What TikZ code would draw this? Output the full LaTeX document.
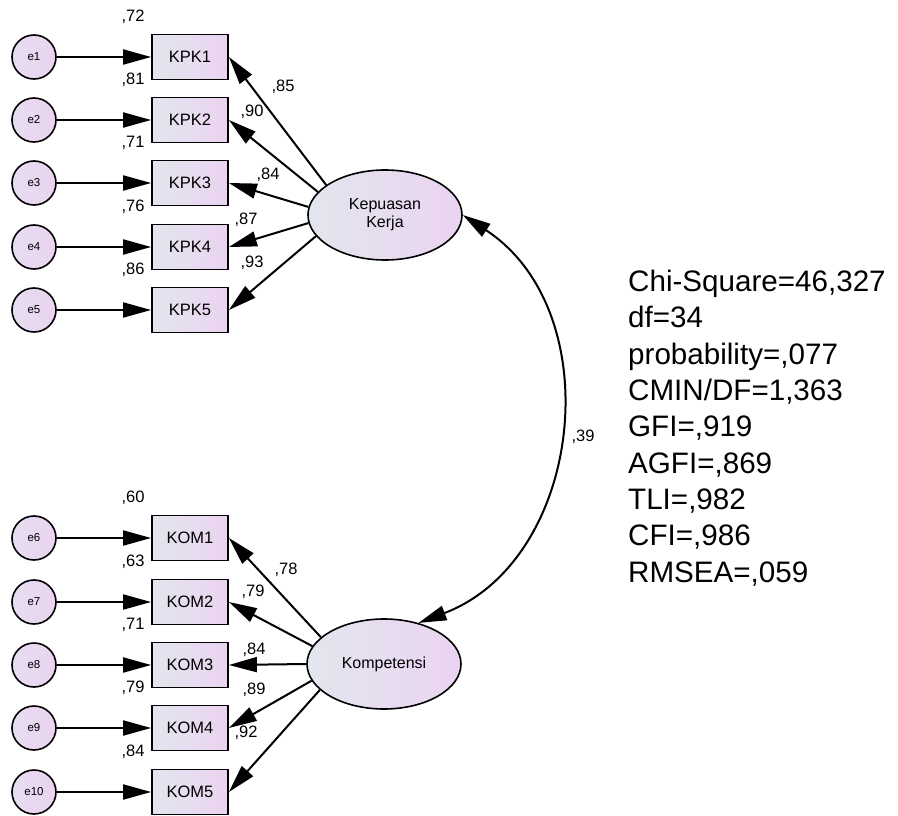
\documentclass[tikz,border=0pt]{standalone}
\usepackage{fontspec}
\setmainfont{Liberation Sans}
\usetikzlibrary{arrows.meta,shapes.geometric}
\definecolor{cAmosL}{HTML}{E2E6EE}
\definecolor{cAmosR}{HTML}{EBD3F1}

\tikzset{
  errnode/.style={circle,draw,line width=1.6pt,minimum size=44pt,inner sep=0pt,
    left color=cAmosL!50!cAmosR,right color=cAmosR,font=\fontsize{11.5}{13}\selectfont},
  obsnode/.style={rectangle,draw,line width=1.8pt,minimum width=76pt,minimum height=45pt,
    inner sep=0pt,left color=cAmosL,right color=cAmosR,font=\fontsize{16.5}{19}\selectfont},
  latnode/.style={ellipse,draw,line width=1.6pt,minimum width=154pt,minimum height=90pt,
    inner sep=0pt,align=center,left color=cAmosL,right color=cAmosR,font=\fontsize{16}{18}\selectfont},
  numlbl/.style={inner sep=0pt,font=\fontsize{16.5}{18}\selectfont},
  loadarrow/.style={line width=2pt,-{Triangle[length=28pt,width=15pt]}}
}

\begin{document}
\begin{tikzpicture}[x=1pt,y=-1pt]
  \useasboundingbox (0,0) rectangle (898,816);
  % latent variables
  \node[latnode] (kk) at (385,215) {Kepuasan\\Kerja};
  \node[latnode] (kom) at (384,664) {Kompetensi};
  % Kepuasan Kerja indicators
  \foreach \i/\y/\sm in {1/57/72,2/120/81,3/183/71,4/247/76,5/310/86}{
    \node[errnode] (e\i) at (34,\y) {e\i};
    \node[obsnode] (kpk\i) at (190,\y) {KPK\i};
    \node[numlbl] (rk\i) at (133,\y-40) {,\sm};
    \draw[loadarrow] (e\i) -- (kpk\i);
  }
  % Kompetensi indicators
  \foreach \i/\j/\y/\sm in {1/6/538/60,2/7/602/63,3/8/665/71,4/9/728/79,5/10/792/84}{
    \node[errnode] (e\j) at (34,\y) {e\j};
    \node[obsnode] (kom\i) at (190,\y) {KOM\i};
    \node[numlbl] (rm\i) at (133,\y-40) {,\sm};
    \draw[loadarrow] (e\j) -- (kom\i);
  }
  % loadings
  \foreach \i/\a/\v/\lx/\ly in {1/153/85/283/87,2/161/90/252/112,3/174/84/268/175,
      4/186/87/246/220,5/197/93/252/263}{
    \draw[loadarrow] (kk.\a) -- (kpk\i.east);
    \node[numlbl] (lk\i) at (\lx,\ly) {,\v};
  }
  \foreach \i/\a/\v/\lx/\ly in {1/157/78/286/570,2/166/79/253/592,3/180/84/254/650,
      4/193/89/254/690,5/202/92/246/733}{
    \draw[loadarrow] (kom.\a) -- (kom\i.east);
    \node[numlbl] (lm\i) at (\lx,\ly) {,\v};
  }
  % correlation
  \draw[line width=2pt,{Triangle[length=28pt,width=15pt]}-{Triangle[length=28pt,width=15pt]}]
    (kk.east) to[bend left=63,looseness=1.1] (kom.50);
  \node[numlbl] (cor) at (583,437) {,39};
  % fit indices
  \node[anchor=north west,align=left,inner sep=0pt,font=\fontsize{29.6}{36.3}\selectfont]
    (fit) at (628,270) {Chi-Square=46,327\\df=34\\probability=,077\\CMIN/DF=1,363\\GFI=,919\\AGFI=,869\\TLI=,982\\CFI=,986\\RMSEA=,059};
\end{tikzpicture}
\end{document}
